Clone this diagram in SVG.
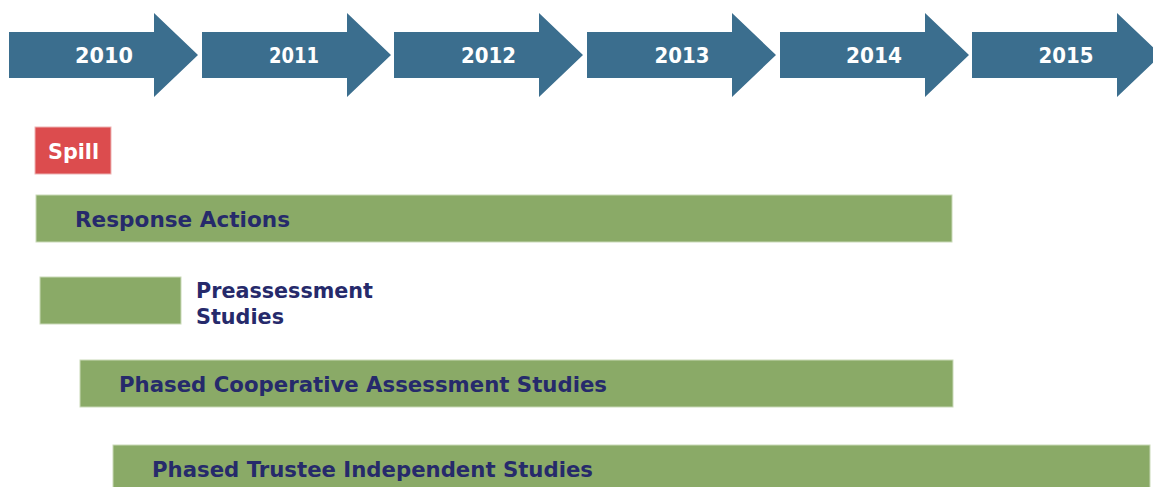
<svg xmlns="http://www.w3.org/2000/svg" width="1153" height="487" viewBox="0 0 1153 487">
<defs>
<style>
.arrow{fill:#3B6E8E;}
.yr{font-family:"DejaVu Sans","Liberation Sans",sans-serif;font-weight:bold;font-size:21px;fill:#ffffff;text-anchor:middle;}
.bar{fill:#8AAA67;stroke:#C9D9B8;stroke-width:1;}
.lbl{font-family:"DejaVu Sans","Liberation Sans",sans-serif;font-weight:bold;font-size:21px;fill:#262A6B;}
.spill{fill:#DC4C4E;stroke:#EDB3B3;stroke-width:1;}
.spilltxt{font-family:"DejaVu Sans","Liberation Sans",sans-serif;font-weight:bold;font-size:22px;fill:#ffffff;}
</style>
<path id="arr" d="M0,32 H145 V13 L189,55 L145,97 V78 H0 Z"/>
</defs>
<rect width="1153" height="487" fill="#ffffff"/>
<g id="years">
<g id="y2010"><use href="#arr" x="9" class="arrow"/><text class="yr" x="104" y="63" textLength="58" lengthAdjust="spacingAndGlyphs">2010</text></g>
<g id="y2011"><use href="#arr" x="202" class="arrow"/><text class="yr" x="294" y="63" textLength="50" lengthAdjust="spacingAndGlyphs">2011</text></g>
<g id="y2012"><use href="#arr" x="394" class="arrow"/><text class="yr" x="488.5" y="63" textLength="55" lengthAdjust="spacingAndGlyphs">2012</text></g>
<g id="y2013"><use href="#arr" x="587" class="arrow"/><text class="yr" x="682" y="63" textLength="55" lengthAdjust="spacingAndGlyphs">2013</text></g>
<g id="y2014"><use href="#arr" x="780" class="arrow"/><text class="yr" x="874" y="63" textLength="56" lengthAdjust="spacingAndGlyphs">2014</text></g>
<g id="y2015"><use href="#arr" x="972" class="arrow"/><text class="yr" x="1066" y="63" textLength="55" lengthAdjust="spacingAndGlyphs">2015</text></g>
</g>
<g id="spill"><rect class="spill" x="35" y="127" width="76" height="47"/><text class="spilltxt" x="48" y="159" textLength="51" lengthAdjust="spacingAndGlyphs">Spill</text></g>
<g id="response"><rect class="bar" x="36" y="195" width="916" height="47"/><text class="lbl" x="75" y="227" textLength="215" lengthAdjust="spacingAndGlyphs">Response Actions</text></g>
<g id="preassessment"><rect class="bar" x="40" y="277" width="141" height="47"/><text class="lbl" x="196" y="298" textLength="177" lengthAdjust="spacingAndGlyphs">Preassessment</text><text class="lbl" x="196" y="324" textLength="88" lengthAdjust="spacingAndGlyphs">Studies</text></g>
<g id="cooperative"><rect class="bar" x="80" y="360" width="873" height="47"/><text class="lbl" x="119" y="392" textLength="488" lengthAdjust="spacingAndGlyphs">Phased Cooperative Assessment Studies</text></g>
<g id="trustee"><rect class="bar" x="113" y="445" width="1037" height="50"/><text class="lbl" x="152" y="477" textLength="441" lengthAdjust="spacingAndGlyphs">Phased Trustee Independent Studies</text></g>
<g id="connectors"/>
</svg>
